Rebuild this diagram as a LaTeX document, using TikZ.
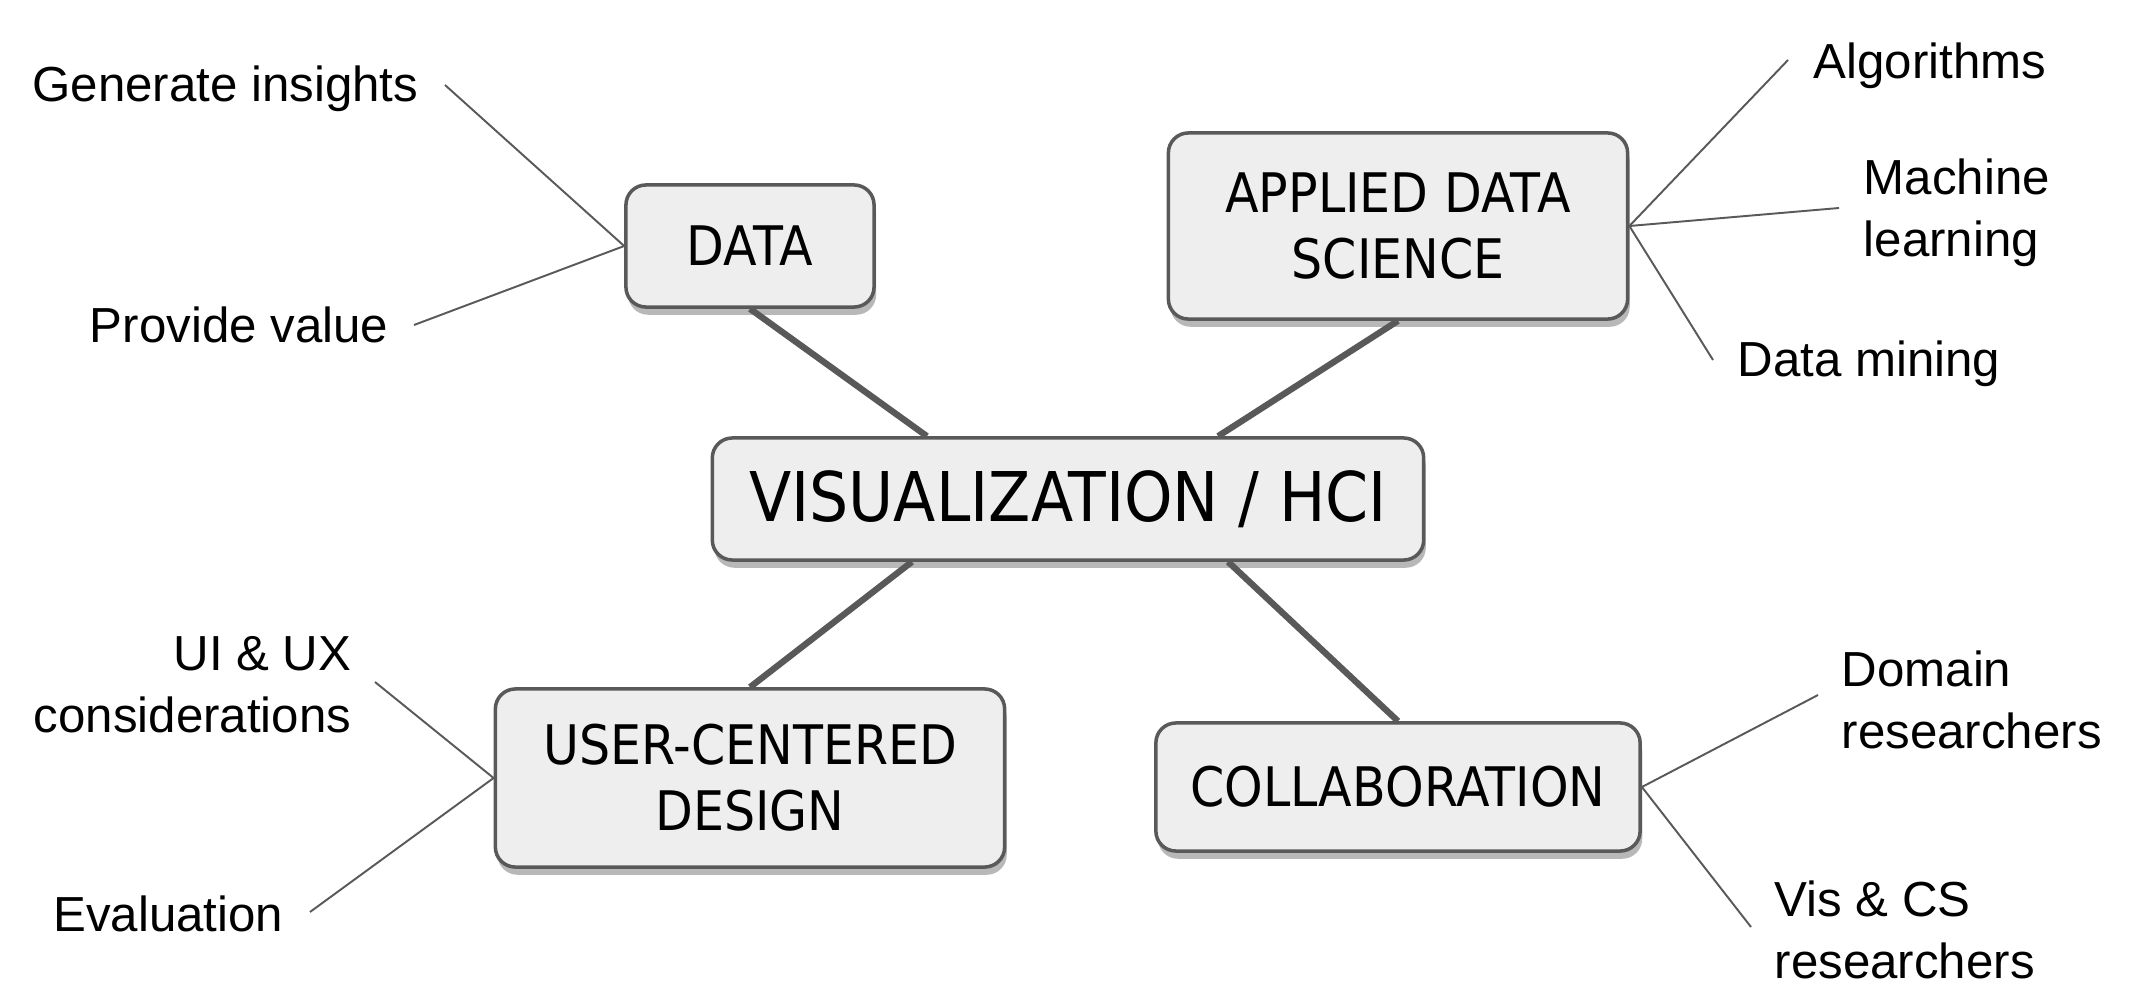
\documentclass[tikz,border=0pt]{standalone}
\usepackage{fontspec}
\setmainfont{Liberation Sans}
\newfontfamily\boxfont{DejaVu Sans}[FakeStretch=0.9]
\usetikzlibrary{shadows}
\definecolor{boxfill}{HTML}{EEEEEE}
\definecolor{edge}{HTML}{595959}
\tikzset{
  topic/.style={draw=edge, line width=1pt, fill=boxfill, rounded corners=0.2cm,
    inner sep=0pt, align=center, font=\boxfont\fontsize{15.5}{18.8}\selectfont,
    drop shadow={shadow xshift=0.6pt, shadow yshift=-2.2pt, opacity=0.28, fill=black}},
  leaf/.style={inner sep=0pt, font=\fontsize{14}{17.6}\selectfont},
  thick link/.style={draw=edge, line width=1.8pt},
  thin link/.style={draw=edge, line width=0.55pt},
}
\begin{document}
\begin{tikzpicture}[x=0.01cm, y=-0.01cm]
\useasboundingbox (0,0) rectangle (2148,988);

% topic boxes
\node[topic, minimum width=2.48cm, minimum height=1.22cm] (data) at (750,246) {DATA};
\node[topic, minimum width=4.59cm, minimum height=1.86cm] (ads) at (1398,226) {APPLIED DATA\\SCIENCE};
\node[topic, minimum width=7.11cm, minimum height=1.22cm, font=\boxfont\fontsize{19.5}{23}\selectfont] (vis) at (1068,499) {VISUALIZATION / HCI};
\node[topic, minimum width=5.09cm, minimum height=1.78cm] (ucd) at (750,778) {USER-CENTERED\\DESIGN};
\node[topic, minimum width=4.84cm, minimum height=1.28cm] (coll) at (1398,787) {COLLABORATION};

% leaf labels
\node[leaf, anchor=east] (gi) at (419,89) {Generate insights};
\node[leaf, anchor=east] (pv) at (389,325) {Provide value};
\node[leaf, anchor=west] (alg) at (1813,66) {Algorithms};
\node[leaf, anchor=west, align=left] (ml) at (1863,213) {Machine\\learning};
\node[leaf, anchor=west] (dm) at (1737,364) {Data mining};
\node[leaf, anchor=east, align=right] (ui) at (352,685) {UI \& UX\\considerations};
\node[leaf, anchor=east] (ev) at (284,914) {Evaluation};
\node[leaf, anchor=west, align=left] (dr) at (1841,700) {Domain\\researchers};
\node[leaf, anchor=west, align=left] (vc) at (1774,930) {Vis \& CS\\researchers};

% free ends of thin links
\coordinate (gi-e) at (445,85);
\coordinate (pv-e) at (414,325);
\coordinate (alg-e) at (1788,60);
\coordinate (ml-e) at (1839,208);
\coordinate (dm-e) at (1713,360);
\coordinate (ui-e) at (375,682);
\coordinate (ev-e) at (310,912);
\coordinate (dr-e) at (1818,695);
\coordinate (vc-e) at (1751,927);

% thick links
\draw[thick link] (data.south) -- ([xshift=-1.41cm]vis.north);
\draw[thick link] (ads.south) -- ([xshift=1.5cm]vis.north);
\draw[thick link] ([xshift=-1.56cm]vis.south) -- (ucd.north);
\draw[thick link] ([xshift=1.6cm]vis.south) -- (coll.north);

% thin links
\draw[thin link] (data.west) -- (gi-e);
\draw[thin link] (data.west) -- (pv-e);
\draw[thin link] (ads.east) -- (alg-e);
\draw[thin link] (ads.east) -- (ml-e);
\draw[thin link] (ads.east) -- (dm-e);
\draw[thin link] (ucd.west) -- (ui-e);
\draw[thin link] (ucd.west) -- (ev-e);
\draw[thin link] (coll.east) -- (dr-e);
\draw[thin link] (coll.east) -- (vc-e);
\end{tikzpicture}
\end{document}
